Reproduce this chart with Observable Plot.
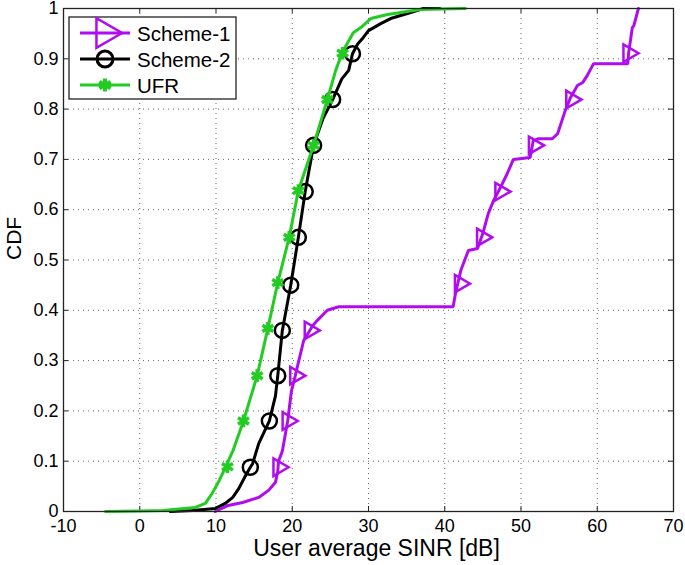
<!DOCTYPE html>
<html>
<head>
<meta charset="utf-8">
<script src="https://cdn.jsdelivr.net/npm/d3@7"></script>
<script src="https://cdn.jsdelivr.net/npm/@observablehq/plot@0.6"></script>
<style>
  html, body { margin: 0; padding: 0; background: white; }
  #chart { width: 685px; height: 565px; }
</style>
</head>
<body>
<div id="chart"></div>
<script>
// ---- data ----
const xTicks = [-10, 0, 10, 20, 30, 40, 50, 60, 70];
const yTicks = [0, 0.1, 0.2, 0.3, 0.4, 0.5, 0.6, 0.7, 0.8, 0.9, 1];
const seriesNames = ["Scheme-1", "Scheme-2", "UFR"];

const scheme1X = [9.9, 11.6, 13.5, 15.6, 16.9, 17.8, 18.1, 18.2, 18.7, 19.4, 19.9, 20.4, 20.8, 21.5, 22.3, 22.7, 23.3, 24.6, 26.1, 41.1, 41.4, 42.1, 43.1, 44.3, 45.0, 45.7, 46.4, 47.3, 48.2, 49.0, 51.2, 51.6, 52.2, 54.1, 54.8, 55.8, 56.5, 57.4, 58.1, 58.7, 59.5, 64.0, 64.1, 64.6, 64.8, 65.4];
const scheme1Y = [0, 0.012, 0.018, 0.028, 0.042, 0.058, 0.08, 0.1, 0.12, 0.18, 0.24, 0.27, 0.296, 0.34, 0.36, 0.37, 0.38, 0.40, 0.407, 0.407, 0.433, 0.479, 0.519, 0.523, 0.553, 0.592, 0.618, 0.644, 0.672, 0.70, 0.704, 0.737, 0.741, 0.741, 0.751, 0.797, 0.823, 0.847, 0.853, 0.867, 0.89, 0.89, 0.91, 0.962, 0.966, 1.0];
const scheme1MarkX = [18.2, 19.4, 20.4, 22.3, 42.0, 44.9, 47.3, 51.7, 56.6, 64.1];
const scheme1MarkY = [0.088, 0.18, 0.27, 0.36, 0.453, 0.545, 0.636, 0.728, 0.819, 0.911];

const scheme2X = [4.0, 6.9, 9.9, 11.2, 12.2, 13.0, 13.9, 14.5, 14.8, 15.6, 17.0, 17.8, 18.1, 18.7, 19.8, 20.8, 21.7, 22.8, 24.0, 25.3, 26.5, 27.4, 27.9, 28.6, 29.3, 30.0, 31.6, 32.9, 35.1, 37.2, 39.4];
const scheme2Y = [0, 0.002, 0.006, 0.016, 0.028, 0.046, 0.072, 0.088, 0.095, 0.135, 0.18, 0.23, 0.27, 0.36, 0.45, 0.545, 0.636, 0.728, 0.78, 0.819, 0.86, 0.877, 0.91, 0.93, 0.942, 0.956, 0.97, 0.98, 0.99, 1.0, 1.0];
const scheme2MarkX = [14.5, 17.0, 18.1, 18.7, 19.8, 20.8, 21.7, 22.8, 25.3, 27.9];
const scheme2MarkY = [0.088, 0.18, 0.27, 0.36, 0.45, 0.545, 0.636, 0.728, 0.819, 0.91];

const ufrX = [-4.5, 0, 3, 7.3, 8.6, 9.5, 10.3, 11.0, 11.5, 11.6, 12.2, 13.6, 15.4, 16.8, 18.1, 19.6, 20.8, 22.8, 24.6, 25.7, 26.6, 28.0, 29.0, 30.3, 32.5, 34.2, 36.8, 42.7];
const ufrY = [0, 0.001, 0.002, 0.008, 0.016, 0.036, 0.058, 0.08, 0.089, 0.1, 0.12, 0.18, 0.27, 0.364, 0.455, 0.545, 0.638, 0.728, 0.819, 0.877, 0.914, 0.952, 0.962, 0.98, 0.988, 0.992, 0.998, 1.0];
const ufrMarkX = [11.5, 13.6, 15.4, 16.8, 18.1, 19.6, 20.8, 22.8, 24.6, 26.6];
const ufrMarkY = [0.089, 0.18, 0.27, 0.364, 0.455, 0.545, 0.638, 0.728, 0.819, 0.911];

// ---- styles ----
const colors = {"Scheme-1": "#b00cf0", "Scheme-2": "#000000", "UFR": "#22cc22"};
const font = "'Liberation Sans', Arial, Helvetica, sans-serif";

const toRows = (xs, ys) => xs.map((x, i) => ({x, y: ys[i]}));
const s1 = toRows(scheme1X, scheme1Y), s1m = toRows(scheme1MarkX, scheme1MarkY);
const s2 = toRows(scheme2X, scheme2Y), s2m = toRows(scheme2MarkX, scheme2MarkY);
const u = toRows(ufrX, ufrY), um = toRows(ufrMarkX, ufrMarkY);

const W = 685, H = 565, mL = 63, mR = 12, mT = 8, mB = 54;
const fw = W - mL - mR, fh = H - mT - mB;
const tickLen = 5;

const chart = Plot.plot({
  width: W, height: H,
  marginLeft: mL, marginRight: mR, marginTop: mT, marginBottom: mB,
  x: {domain: [-10, 70]},
  y: {domain: [0, 1]},
  style: {fontFamily: font, background: "white", color: "black", overflow: "visible"},
  marks: [
    Plot.gridX(xTicks, {stroke: "#666", strokeOpacity: 1, strokeDasharray: "1,4", strokeWidth: 1}),
    Plot.gridY(yTicks, {stroke: "#666", strokeOpacity: 1, strokeDasharray: "1,4", strokeWidth: 1}),
    Plot.ruleX(xTicks, {insetTop: fh - tickLen, stroke: "#222"}),
    Plot.ruleX(xTicks, {insetBottom: fh - tickLen, stroke: "#222"}),
    Plot.ruleY(yTicks, {insetRight: fw - tickLen, stroke: "#222"}),
    Plot.ruleY(yTicks, {insetLeft: fw - tickLen, stroke: "#222"}),
    Plot.axisX(xTicks, {tickSize: 0, tickPadding: 8, fontSize: 18, label: null, tickFormat: d => String(d)}),
    Plot.axisY(yTicks, {tickSize: 0, tickPadding: 5, fontSize: 18, label: null, tickFormat: d => String(d)}),
    Plot.line(s1, {x: "x", y: "y", stroke: colors["Scheme-1"], strokeWidth: 3, strokeLinejoin: "miter"}),
    Plot.dot(s1m, {x: "x", y: "y", symbol: "triangle", rotate: 90, r: 6.5, stroke: colors["Scheme-1"], strokeWidth: 2.5, fill: "none"}),
    Plot.line(s2, {x: "x", y: "y", stroke: colors["Scheme-2"], strokeWidth: 3}),
    Plot.dot(s2m, {x: "x", y: "y", symbol: "circle", r: 7.5, stroke: colors["Scheme-2"], strokeWidth: 2.5, fill: "none"}),
    Plot.line(u, {x: "x", y: "y", stroke: colors["UFR"], strokeWidth: 3}),
    Plot.dot(um, {x: "x", y: "y", symbol: "asterisk", r: 6, stroke: colors["UFR"], strokeWidth: 3.5, fill: "none"}),
    Plot.frame({stroke: "#222", strokeWidth: 1.3}),
    Plot.text(["User average SINR [dB]"], {frameAnchor: "bottom", dy: 44, dx: 8, fontSize: 23, fill: "black"}),
    Plot.text(["CDF"], {frameAnchor: "left", rotate: -90, dx: -49, fontSize: 21, fill: "black"})
  ]
});

document.getElementById("chart").appendChild(chart);

// ---- legend (inside the axes, top-left) ----
const svg = d3.select(chart);
const lg = svg.append("g").attr("font-family", font).attr("font-size", 20.5).attr("text-anchor", "start");
lg.append("rect").attr("x", 69).attr("y", 17).attr("width", 167).attr("height", 82)
  .attr("fill", "white").attr("stroke", "#222").attr("stroke-width", 1.3);
const rowY = [33, 59, 85];
const legendSymbols = [d3.symbolTriangle, d3.symbolCircle, d3.symbolAsterisk];
const legendSizes = [380, 200, 120];
const legendRot = [90, 0, 0];
const legendSW = [2.5, 3, 4];
seriesNames.forEach((name, i) => {
  const y = rowY[i];
  lg.append("line").attr("x1", 80).attr("x2", 130).attr("y1", y).attr("y2", y)
    .attr("stroke", colors[name]).attr("stroke-width", 3);
  lg.append("path").attr("d", d3.symbol(legendSymbols[i], legendSizes[i])())
    .attr("transform", `translate(105,${y}) rotate(${legendRot[i]})`)
    .attr("fill", "none").attr("stroke", colors[name]).attr("stroke-width", legendSW[i]);
  lg.append("text").attr("x", 137).attr("y", y + 7.5).attr("fill", "black")
    .attr("text-anchor", "start").text(name);
});
</script>
</body>
</html>
